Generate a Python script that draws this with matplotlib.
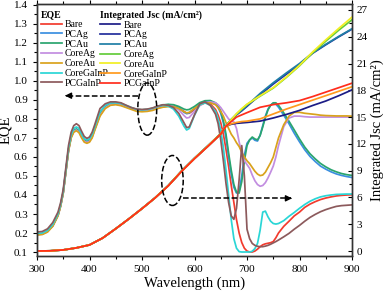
import numpy as np
import matplotlib
matplotlib.use('Agg')
import matplotlib.pyplot as plt
from matplotlib.patches import Ellipse
from matplotlib.ticker import MultipleLocator

plt.rcParams['font.family'] = ['Liberation Serif', 'DejaVu Serif']

# wavelength grid for the EQE curves (nm)
wl = [300, 310, 320, 330, 340, 345, 350, 355, 360, 365, 370, 375, 380, 385, 390, 395, 400, 405, 410,
      420, 430, 440, 450, 460, 470, 480, 490, 500, 510, 520, 530, 540, 550, 560, 570, 580, 585,
      590, 600, 610, 620, 630, 640, 645, 650, 655, 660, 665, 670, 675, 680, 685, 690, 695, 700,
      705, 710, 715, 720, 725, 730, 735, 740, 745, 750, 755, 760, 770, 780, 790, 800, 810, 820,
      830, 840, 850, 860, 870, 880, 890, 900]

eqe_bare = [0.192, 0.195, 0.208, 0.238, 0.294, 0.344, 0.414, 0.525, 0.636, 0.706, 0.737, 0.745, 0.736, 0.708, 0.686, 0.68, 0.686, 0.708, 0.748,
            0.823, 0.862, 0.878, 0.88, 0.875, 0.865, 0.855, 0.846, 0.844, 0.846, 0.851, 0.86, 0.866, 0.868, 0.866, 0.856, 0.84, 0.83,
            0.83, 0.85, 0.875, 0.885, 0.88, 0.85, 0.82, 0.78, 0.72, 0.64, 0.55, 0.45, 0.36, 0.27, 0.2, 0.15, 0.12, 0.105,
            0.1, 0.1, 0.105, 0.115, 0.128, 0.138, 0.143, 0.146, 0.149, 0.155, 0.175, 0.2, 0.235, 0.262, 0.29, 0.31, 0.335, 0.352,
            0.365, 0.376, 0.384, 0.39, 0.395, 0.398, 0.4, 0.401]
eqe_pcag = [0.192, 0.195, 0.208, 0.238, 0.294, 0.344, 0.414, 0.525, 0.636, 0.706, 0.737, 0.745, 0.736, 0.708, 0.686, 0.68, 0.686, 0.708, 0.748,
            0.823, 0.862, 0.878, 0.88, 0.876, 0.866, 0.856, 0.848, 0.846, 0.848, 0.854, 0.864, 0.872, 0.875, 0.872, 0.86, 0.835, 0.828,
            0.832, 0.856, 0.88, 0.893, 0.895, 0.88, 0.86, 0.83, 0.78, 0.7, 0.6, 0.51, 0.44, 0.41, 0.42, 0.5, 0.61, 0.672,
            0.69, 0.7, 0.688, 0.684, 0.715, 0.765, 0.815, 0.852, 0.873, 0.883, 0.878, 0.862, 0.82, 0.775, 0.725, 0.68, 0.638, 0.603,
            0.576, 0.552, 0.536, 0.522, 0.511, 0.503, 0.497, 0.492]
eqe_pcau = [0.193, 0.196, 0.209, 0.239, 0.295, 0.345, 0.415, 0.527, 0.638, 0.708, 0.739, 0.747, 0.738, 0.71, 0.688, 0.682, 0.688, 0.71, 0.75,
            0.825, 0.864, 0.88, 0.882, 0.878, 0.868, 0.858, 0.85, 0.848, 0.85, 0.856, 0.866, 0.874, 0.877, 0.875, 0.866, 0.852, 0.848,
            0.85, 0.866, 0.886, 0.896, 0.897, 0.885, 0.87, 0.84, 0.79, 0.72, 0.62, 0.53, 0.455, 0.415, 0.41, 0.47, 0.58, 0.66,
            0.69, 0.705, 0.695, 0.69, 0.713, 0.758, 0.808, 0.848, 0.872, 0.885, 0.885, 0.872, 0.832, 0.788, 0.742, 0.695, 0.652, 0.617,
            0.59, 0.566, 0.548, 0.533, 0.522, 0.513, 0.507, 0.503]
eqe_coreag = [0.191, 0.194, 0.207, 0.237, 0.292, 0.342, 0.412, 0.522, 0.633, 0.703, 0.734, 0.742, 0.732, 0.705, 0.683, 0.677, 0.683, 0.705, 0.745,
              0.82, 0.859, 0.876, 0.878, 0.873, 0.863, 0.853, 0.844, 0.842, 0.844, 0.849, 0.858, 0.865, 0.868, 0.865, 0.848, 0.818, 0.805,
              0.808, 0.84, 0.87, 0.885, 0.89, 0.885, 0.875, 0.86, 0.84, 0.82, 0.8, 0.79, 0.785, 0.75, 0.68, 0.62, 0.58, 0.56,
              0.54, 0.505, 0.475, 0.455, 0.446, 0.45, 0.465, 0.49, 0.52, 0.552, 0.6, 0.66, 0.76, 0.805, 0.815, 0.815, 0.812, 0.81,
              0.81, 0.81, 0.81, 0.81, 0.81, 0.81, 0.81, 0.81]
eqe_coreau = [0.19, 0.192, 0.205, 0.235, 0.29, 0.34, 0.41, 0.52, 0.63, 0.7, 0.73, 0.738, 0.728, 0.7, 0.678, 0.672, 0.678, 0.7, 0.74,
              0.815, 0.855, 0.872, 0.875, 0.87, 0.86, 0.85, 0.84, 0.838, 0.84, 0.845, 0.855, 0.862, 0.865, 0.865, 0.855, 0.838, 0.832,
              0.835, 0.855, 0.875, 0.885, 0.885, 0.875, 0.86, 0.84, 0.815, 0.78, 0.75, 0.72, 0.7, 0.675, 0.655, 0.625, 0.6, 0.58,
              0.565, 0.545, 0.525, 0.51, 0.502, 0.505, 0.52, 0.545, 0.57, 0.6, 0.65, 0.7, 0.77, 0.815, 0.835, 0.835, 0.83, 0.827,
              0.824, 0.82, 0.818, 0.817, 0.816, 0.816, 0.816, 0.815]
eqe_coregainp = [0.198, 0.2, 0.214, 0.245, 0.3, 0.35, 0.42, 0.533, 0.645, 0.715, 0.75, 0.758, 0.75, 0.72, 0.696, 0.69, 0.696, 0.718, 0.758,
                 0.838, 0.872, 0.885, 0.886, 0.882, 0.871, 0.86, 0.85, 0.848, 0.85, 0.856, 0.866, 0.872, 0.868, 0.852, 0.815, 0.762, 0.742,
                 0.75, 0.82, 0.875, 0.885, 0.872, 0.84, 0.8, 0.74, 0.65, 0.53, 0.4, 0.27, 0.17, 0.12, 0.102, 0.1, 0.1, 0.1,
                 0.1, 0.104, 0.118, 0.145, 0.215, 0.31, 0.315, 0.285, 0.262, 0.25, 0.247, 0.25, 0.265, 0.288, 0.308, 0.33, 0.35, 0.367,
                 0.38, 0.39, 0.396, 0.4, 0.403, 0.404, 0.405, 0.405]
eqe_pcgainp = [0.205, 0.208, 0.222, 0.255, 0.31, 0.36, 0.43, 0.545, 0.66, 0.73, 0.765, 0.775, 0.765, 0.735, 0.708, 0.698, 0.705, 0.73, 0.77,
               0.855, 0.88, 0.89, 0.89, 0.885, 0.872, 0.86, 0.852, 0.85, 0.852, 0.858, 0.868, 0.875, 0.872, 0.86, 0.83, 0.78, 0.755,
               0.758, 0.822, 0.88, 0.89, 0.872, 0.825, 0.775, 0.69, 0.58, 0.46, 0.36, 0.29, 0.272, 0.33, 0.48, 0.66, 0.5, 0.22,
               0.17, 0.145, 0.135, 0.13, 0.128, 0.128, 0.131, 0.135, 0.141, 0.148, 0.155, 0.163, 0.18, 0.198, 0.22, 0.24, 0.262, 0.282,
               0.298, 0.312, 0.323, 0.332, 0.34, 0.344, 0.346, 0.348]

# wavelength grid for the integrated Jsc curves (nm)
wl_j = [300, 325, 350, 375, 400, 425, 450, 475, 500, 525, 550, 575, 600, 625, 650, 660,
        670, 680, 690, 700, 725, 750, 775, 800, 825, 850, 875, 900]
jsc_bare = [0.0, 0.02, 0.12, 0.35, 0.68, 1.45, 2.5, 3.6, 4.75, 5.95, 7.3, 8.9, 10.35, 11.7, 13.1, 14.0,
            14.2, 14.3, 14.35, 14.4, 14.55, 14.9, 15.3, 15.75, 16.3, 16.8, 17.4, 18.05]
jsc_pcag = [0.0, 0.02, 0.12, 0.35, 0.68, 1.45, 2.5, 3.6, 4.76, 5.97, 7.33, 8.94, 10.4, 11.76, 13.15, 14.05,
            14.7, 15.25, 15.7, 16.2, 17.5, 18.7, 19.8, 20.9, 22.15, 23.1, 24.0, 24.85]
jsc_pcau = [0.0, 0.02, 0.12, 0.35, 0.68, 1.45, 2.5, 3.6, 4.76, 5.97, 7.33, 8.94, 10.4, 11.76, 13.15, 14.05,
            14.75, 15.3, 15.78, 16.3, 17.65, 18.85, 19.95, 21.0, 22.2, 23.15, 24.05, 24.9]
jsc_coreag = [0.0, 0.02, 0.12, 0.35, 0.68, 1.45, 2.5, 3.6, 4.75, 5.96, 7.32, 8.93, 10.38, 11.74, 13.13, 14.02,
              14.7, 15.35, 15.9, 16.4, 17.35, 18.25, 19.45, 20.75, 22.2, 23.5, 24.75, 25.9]
jsc_coreau = [0.0, 0.02, 0.12, 0.35, 0.68, 1.45, 2.5, 3.6, 4.75, 5.96, 7.32, 8.93, 10.38, 11.74, 13.13, 14.02,
              14.7, 15.38, 15.95, 16.45, 17.4, 18.3, 19.5, 20.8, 22.3, 23.65, 24.95, 26.2]
jsc_coregainp = [0.0, 0.02, 0.12, 0.35, 0.68, 1.45, 2.5, 3.6, 4.75, 5.95, 7.3, 8.9, 10.35, 11.7, 13.1, 14.0,
                 14.25, 14.4, 14.5, 14.55, 14.8, 15.35, 15.9, 16.4, 16.9, 17.4, 17.9, 18.4]
jsc_pcgainp = [0.0, 0.02, 0.12, 0.35, 0.68, 1.45, 2.5, 3.6, 4.75, 5.95, 7.3, 8.9, 10.35, 11.7, 13.1, 14.0,
               14.5, 15.0, 15.25, 15.5, 16.1, 16.4, 16.6, 16.85, 17.3, 17.8, 18.3, 18.8]

names = ['Bare', 'PCAg', 'PCAu', 'CoreAg', 'CoreAu', 'CoreGaInP', 'PCGaInP']
eqe_all = [eqe_bare, eqe_pcag, eqe_pcau, eqe_coreag, eqe_coreau, eqe_coregainp, eqe_pcgainp]
jsc_all = [jsc_bare, jsc_pcag, jsc_pcau, jsc_coreag, jsc_coreau, jsc_coregainp, jsc_pcgainp]
eqe_colors = ['#f23b2e', '#3b8fe0', '#2aa56e', '#c28de0', '#d9a21c', '#2ad6d6', '#8c5a5c']
jsc_colors = ['#1c1c86', '#232f9c', '#1f7fa6', '#63cc3a', '#f2ee24', '#ff9a1e', '#ff2d1c']

fig = plt.figure(figsize=(3.87, 2.99), dpi=100)
ax = fig.add_axes([37 / 387, 1 - 256 / 299, 315 / 387, 252 / 299])
ax2 = ax.twinx()

eqe_lines = []
for n, y, c in zip(names, eqe_all, eqe_colors):
    l, = ax.plot(wl, y, color=c, lw=1.25, label=n)
    eqe_lines.append(l)

jsc_lines = []
for n, y, c in zip(names, jsc_all, jsc_colors):
    l, = ax2.plot(wl_j, y, color=c, lw=1.25, label=n)
    jsc_lines.append(l)

ax.set_xlim(300, 900)
ax.set_ylim(0.079, 1.405)
ax2.set_ylim(-0.56, 27.67)

ax.xaxis.set_major_locator(MultipleLocator(100))
ax.xaxis.set_minor_locator(MultipleLocator(50))
ax.yaxis.set_major_locator(MultipleLocator(0.1))
ax.yaxis.set_minor_locator(MultipleLocator(0.05))
ax2.yaxis.set_major_locator(MultipleLocator(3))
ax2.yaxis.set_minor_locator(MultipleLocator(1.5))
ax.yaxis.set_major_formatter(plt.FuncFormatter(lambda v, p: f'{v:.1f}'))

ax.tick_params(axis='x', which='both', direction='out', top=True, labelsize=8)
ax.tick_params(axis='x', which='major', length=3, width=0.8)
ax.tick_params(axis='x', which='minor', length=2, width=0.8)
ax.tick_params(axis='y', which='major', direction='out', length=3, width=0.8, labelsize=8)
ax.tick_params(axis='y', which='minor', direction='out', length=2, width=0.8)
ax2.tick_params(axis='y', which='major', direction='in', length=3, width=0.8, labelsize=8, pad=3)
ax2.tick_params(axis='y', which='minor', direction='in', length=2, width=0.8)
for a in (ax, ax2):
    for s in a.spines.values():
        s.set_linewidth(1.0)
        s.set_color('#333333')

ax.set_xlabel('Wavelength (nm)', fontsize=10.5, labelpad=2)
ax.set_ylabel('EQE', fontsize=10.5, labelpad=1)
ax2.set_ylabel('Integrated Jsc (mA/cm²)', fontsize=10.5, labelpad=2)

leg_kw = dict(loc='upper left', frameon=False, fontsize=7,
              title_fontproperties={'weight': 'bold', 'size': 7}, alignment='left',
              handlelength=2.1, handletextpad=0.3, labelspacing=0.08, borderpad=0, borderaxespad=0)
leg1 = ax2.legend(handles=eqe_lines, title='EQE', bbox_to_anchor=(0.013, 0.975), **leg_kw)
ax2.add_artist(leg1)
leg2 = ax2.legend(handles=jsc_lines, title='Integrated Jsc (mA/cm²)', bbox_to_anchor=(0.2, 0.975), **leg_kw)

# dashed ellipses and arrows pointing at the axes
ax2.add_patch(Ellipse((510, 15.9), 36, 5.85, fill=False, ls='--', lw=1.1, color='k', zorder=5))
ax2.add_patch(Ellipse((558, 7.9), 41, 5.6, fill=False, ls='--', lw=1.1, color='k', zorder=5))
ax2.plot([492, 356], [17.4, 17.4], ls='--', lw=1.1, color='k', zorder=5)
ax2.annotate('', xy=(348, 17.4), xytext=(362, 17.4),
             arrowprops=dict(arrowstyle='-|>', color='k', lw=1, mutation_scale=9), zorder=6)
ax2.plot([578, 783], [5.9, 5.9], ls='--', lw=1.1, color='k', zorder=5)
ax2.annotate('', xy=(791, 5.9), xytext=(777, 5.9),
             arrowprops=dict(arrowstyle='-|>', color='k', lw=1, mutation_scale=9), zorder=6)

fig.savefig('out.png', dpi=100)
